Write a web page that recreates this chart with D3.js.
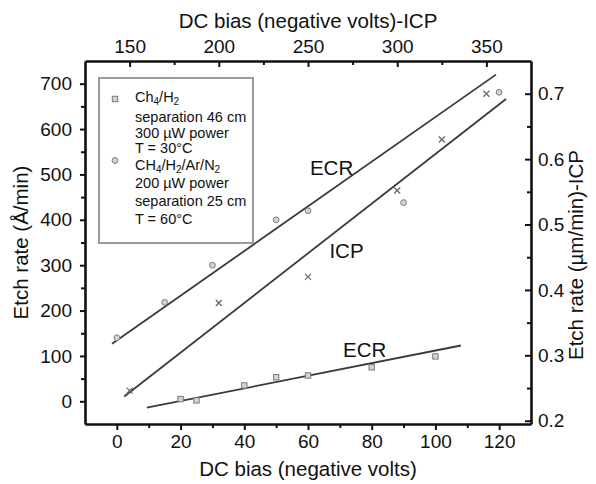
<!DOCTYPE html>
<html>
<head>
<meta charset="utf-8">
<style>
body { margin: 0; background: #fff; }
svg text { font-family: "Liberation Sans", Arial, sans-serif; fill: #111; }
.frame .domain { stroke: #111; stroke-width: 2.6px; }
.frame .tick line { stroke: #111; stroke-width: 2px; }
.frame text { font-size: 19px; }
.fit { fill: none; stroke: #3a3a3a; stroke-width: 1.8px; }
.mark { fill: #d4d4d4; stroke: #7a7a7a; stroke-width: 1px; }
.cross { stroke: #6a6a6a; stroke-width: 1.3px; fill: none; }
.title { font-size: 20.5px; }
.lab { font-size: 20.5px; }
.legend text { font-size: 14.5px; }
</style>
</head>
<body>
<script src="https://d3js.org/d3.v7.min.js"></script>
<script>
// ECR, CH4/H2/Ar/N2 (circles) - bottom / left axes
var arBias = [0, 15, 30, 50, 60, 90, 120];
var arRate = [140, 218, 300, 400, 420, 438, 681];
// ECR, CH4/H2 (squares) - bottom / left axes
var h2Bias = [20, 25, 40, 50, 60, 80, 100];
var h2Rate = [5, 2, 35, 53, 57, 75, 99];
// ICP (crosses) - top / right axes
var icpBias = [150, 200, 250, 300, 325, 350];
var icpRate = [0.246, 0.38, 0.42, 0.552, 0.63, 0.70];

// fitted lines (end points)
var arFitBias = [-1.5, 119], arFitRate = [127, 720];
var h2FitBias = [9.4, 108], h2FitRate = [-14, 123];
var icpFitBias = [147, 361], icpFitRate = [0.237, 0.692];

// ticks
var xTicks = [0, 20, 40, 60, 80, 100, 120];
var xMinor = [10, 30, 50, 70, 90, 110];
var yTicks = [0, 100, 200, 300, 400, 500, 600, 700];
var yMinor = [50, 150, 250, 350, 450, 550, 650];
var x2Ticks = [150, 200, 250, 300, 350];
var x2Minor = [175, 225, 275, 325];
var y2Ticks = [0.2, 0.3, 0.4, 0.5, 0.6, 0.7];
var y2Minor = [0.25, 0.35, 0.45, 0.55, 0.65];

var legend1 = ["Ch_4/H_2", "separation 46 cm", "300 \u00b5W power", "T = 30\u00b0C"];
var legend2 = ["CH_4/H_2/Ar/N_2", "200 \u00b5W power", "separation 25 cm", "T = 60\u00b0C"];

var W = 596, H = 484;
var margin = { top: 61, right: 65, bottom: 60, left: 85 };
var width = W - margin.left - margin.right,
    height = H - margin.top - margin.bottom;

var svg = d3.select("body").append("svg")
    .attr("width", W)
    .attr("height", H);

var g = svg.append("g")
    .attr("transform", "translate(" + margin.left + "," + margin.top + ")");

// scales
var x = d3.scaleLinear().domain([-10, 130]).range([0, width]);
var y = d3.scaleLinear().domain([-50, 750]).range([height, 0]);
var x2 = d3.scaleLinear().domain([125, 375]).range([0, width]);
var y2 = d3.scaleLinear().domain([0.195, 0.75]).range([height, 0]);

// minor ticks first
g.append("g").attr("class", "frame")
    .attr("transform", "translate(0," + height + ")")
    .call(d3.axisBottom(x).tickValues(xMinor).tickSize(4).tickFormat(""))
    .select(".domain").remove();
g.append("g").attr("class", "frame")
    .call(d3.axisLeft(y).tickValues(yMinor).tickSize(4).tickFormat(""))
    .select(".domain").remove();
g.append("g").attr("class", "frame")
    .call(d3.axisTop(x2).tickValues(x2Minor).tickSize(-4).tickFormat(""))
    .select(".domain").remove();
g.append("g").attr("class", "frame")
    .attr("transform", "translate(" + width + ",0)")
    .call(d3.axisRight(y2).tickValues(y2Minor).tickSize(-4).tickFormat(""))
    .select(".domain").remove();

// major axes (also draw the frame)
g.append("g").attr("class", "frame")
    .attr("transform", "translate(0," + height + ")")
    .call(d3.axisBottom(x).tickValues(xTicks).tickSize(6).tickSizeOuter(0).tickPadding(5));
g.append("g").attr("class", "frame")
    .call(d3.axisLeft(y).tickValues(yTicks).tickSize(5).tickSizeOuter(0).tickPadding(8));
g.append("g").attr("class", "frame")
    .call(d3.axisTop(x2).tickValues(x2Ticks).tickSize(-6).tickSizeOuter(0).tickPadding(8));
g.append("g").attr("class", "frame")
    .attr("transform", "translate(" + width + ",0)")
    .call(d3.axisRight(y2).tickValues(y2Ticks).tickSize(-6).tickSizeOuter(0).tickPadding(7)
      .tickFormat(d3.format(".1f")));

// fitted lines
var lineB = d3.line()
    .x(function (d) { return x(d[0]); })
    .y(function (d) { return y(d[1]); });
var lineT = d3.line()
    .x(function (d) { return x2(d[0]); })
    .y(function (d) { return y2(d[1]); });

g.append("path").attr("class", "fit").attr("d", lineB(d3.zip(arFitBias, arFitRate)));
g.append("path").attr("class", "fit").attr("d", lineB(d3.zip(h2FitBias, h2FitRate)));
g.append("path").attr("class", "fit").attr("d", lineT(d3.zip(icpFitBias, icpFitRate)));

// markers
g.selectAll(".sq").data(d3.zip(h2Bias, h2Rate)).enter()
  .append("rect")
    .attr("class", "mark")
    .attr("x", function (d) { return x(d[0]) - 2.7; })
    .attr("y", function (d) { return y(d[1]) - 2.7; })
    .attr("width", 5.4).attr("height", 5.4);

g.selectAll(".ci").data(d3.zip(arBias, arRate)).enter()
  .append("circle")
    .attr("class", "mark")
    .attr("cx", function (d) { return x(d[0]); })
    .attr("cy", function (d) { return y(d[1]); })
    .attr("r", 2.9);

g.selectAll(".cr").data(d3.zip(icpBias, icpRate)).enter()
  .append("path")
    .attr("class", "cross")
    .attr("d", function (d) {
      var cx = x2(d[0]), cy = y2(d[1]), s = 3;
      return "M" + (cx - s) + "," + (cy - s) + "L" + (cx + s) + "," + (cy + s) +
             "M" + (cx - s) + "," + (cy + s) + "L" + (cx + s) + "," + (cy - s);
    });

// curve labels
g.append("text").attr("class", "lab").attr("x", x(60.6)).attr("y", y(498)).text("ECR");
g.append("text").attr("class", "lab").attr("x", x2(262)).attr("y", y2(0.449)).text("ICP");
g.append("text").attr("class", "lab").attr("x", x(71)).attr("y", y(97)).text("ECR");

// axis titles
svg.append("text").attr("class", "title")
    .attr("x", margin.left + width / 2).attr("y", 28)
    .attr("text-anchor", "middle")
    .text("DC bias (negative volts)-ICP");
svg.append("text").attr("class", "title")
    .attr("x", margin.left + width / 2).attr("y", 476)
    .attr("text-anchor", "middle")
    .text("DC bias (negative volts)");
svg.append("text").attr("class", "title")
    .attr("transform", "translate(28," + (margin.top + height / 2) + ") rotate(-90)")
    .attr("text-anchor", "middle")
    .text("Etch rate (\u00c5/min)");
svg.append("text").attr("class", "title")
    .attr("transform", "translate(583,255) rotate(-90)")
    .attr("text-anchor", "middle")
    .text("Etch rate (\u00b5m/min)-ICP");

// legend
var leg = svg.append("g").attr("class", "legend");
leg.append("rect")
    .attr("x", 99).attr("y", 78).attr("width", 154).attr("height", 165)
    .attr("fill", "#fff").attr("stroke", "#9a9a9a").attr("stroke-width", 2);

// "_4" -> subscript 4
function addLine(str, tx, ty) {
  var t = leg.append("text").attr("x", tx).attr("y", ty);
  var shift = 0;
  str.split(/(_\d)/).forEach(function (part) {
    if (!part) return;
    if (part[0] === "_") {
      t.append("tspan").attr("dy", 3 - shift).attr("font-size", "10px").text(part.slice(1));
      shift = 3;
    } else {
      t.append("tspan").attr("dy", -shift).text(part);
      shift = 0;
    }
  });
}
legend1.forEach(function (s, i) { addLine(s, 135, i === 0 ? 102 : 122 + (i - 1) * 15.5); });
legend2.forEach(function (s, i) { addLine(s, 135, 170 + i * 18); });

leg.append("rect").attr("class", "mark")
    .attr("x", 115 - 2.7).attr("y", 99 - 2.7).attr("width", 5.4).attr("height", 5.4);
leg.append("circle").attr("class", "mark")
    .attr("cx", 115).attr("cy", 160.5).attr("r", 2.9);
</script>
</body>
</html>
